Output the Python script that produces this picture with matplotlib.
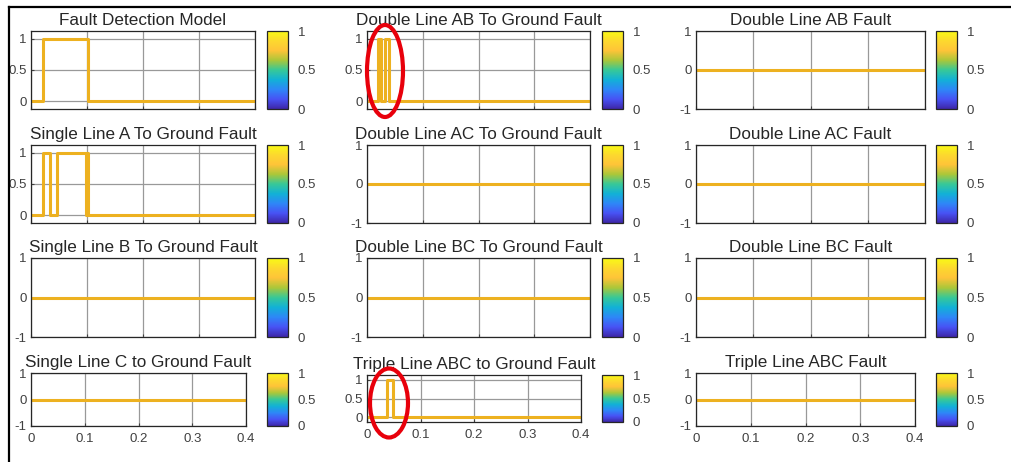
import numpy as np
import matplotlib
matplotlib.use('Agg')
from matplotlib import pyplot as plt
from matplotlib.colors import LinearSegmentedColormap, Normalize
from matplotlib.cm import ScalarMappable
from matplotlib.patches import Ellipse
from matplotlib.lines import Line2D

plt.rcParams['font.family'] = ['Liberation Sans', 'DejaVu Sans']
plt.rcParams['axes.unicode_minus'] = False

# step data (time breakpoints, output value)
titles = [['Fault Detection Model', 'Double Line AB To Ground Fault', 'Double Line AB Fault'],
          ['Single Line A To Ground Fault', 'Double Line AC To Ground Fault', 'Double Line AC Fault'],
          ['Single Line B To Ground Fault', 'Double Line BC To Ground Fault', 'Double Line BC Fault'],
          ['Single Line C to Ground Fault', 'Triple Line ABC to Ground Fault', 'Triple Line ABC Fault']]

t_fdm = [0, 0.021, 0.101, 0.4]
v_fdm = [0, 1, 0, 0]
t_ab_g = [0, 0.020, 0.025, 0.033, 0.039, 0.4]
v_ab_g = [0, 1, 0, 1, 0, 0]
t_a_g = [0, 0.022, 0.034, 0.047, 0.0985, 0.100, 0.1015, 0.4]
v_a_g = [0, 1, 0, 1, 0, 1, 0, 0]
t_abc_g = [0, 0.037, 0.048, 0.4]
v_abc_g = [0, 1, 0, 0]
t_flat = [0, 0.4]
v_flat = [0, 0]

series = [[(t_fdm, v_fdm), (t_ab_g, v_ab_g), (t_flat, v_flat)],
          [(t_a_g, v_a_g), (t_flat, v_flat), (t_flat, v_flat)],
          [(t_flat, v_flat), (t_flat, v_flat), (t_flat, v_flat)],
          [(t_flat, v_flat), (t_abc_g, v_abc_g), (t_flat, v_flat)]]

xticks = [0, 0.1, 0.2, 0.3, 0.4]

# approximate parula
parula = LinearSegmentedColormap.from_list('parula', [
    (0.2422, 0.1504, 0.6603), (0.2810, 0.3228, 0.9579), (0.1786, 0.5289, 0.9682),
    (0.0689, 0.6948, 0.8394), (0.2161, 0.7843, 0.5923), (0.6720, 0.7793, 0.2227),
    (0.9970, 0.7659, 0.2199), (0.9900, 0.8500, 0.1800), (0.9769, 0.9839, 0.0805)])

W, H = 1011, 462
fig = plt.figure(figsize=(W / 100, H / 100), dpi=100)

def px(x0, y0, x1, y1):
    return [x0 / W, 1 - y1 / H, (x1 - x0) / W, (y1 - y0) / H]

col_left = [31, 367, 696]
col_right = [[255, 590, 925]] * 3 + [[246, 581, 915]]
cb_left = [267, 602, 936]
row_top = [31, 145, 258, 373]
row_bot = [109, 223, 337, 426]

tc = '#404040'
for r in range(4):
    for c in range(3):
        top, bot = row_top[r], row_bot[r]
        if r == 3 and c == 1:
            top, bot = 375, 422
        ax = fig.add_axes(px(col_left[c], top, col_right[r][c], bot))
        t, v = series[r][c]
        ax.plot(t, v, drawstyle='steps-post', color='#EDB120', lw=2.2)
        ax.set_xlim(0, 0.4)
        ax.set_xticks(xticks)
        if max(v) > 0:
            ax.set_ylim(-0.12, 1.12)
            ax.set_yticks([0, 0.5, 1])
            ax.set_yticklabels(['0', '0.5', '1'])
        else:
            ax.set_ylim(-1, 1)
            ax.set_yticks([-1, 0, 1])
            ax.set_yticklabels(['-1', '0', '1'])
        if r == 3:
            ax.set_xticklabels(['0', '0.1', '0.2', '0.3', '0.4'])
        else:
            ax.set_xticklabels([])
        ax.grid(True, color='#999999', lw=0.9)
        ax.set_axisbelow(True)
        ax.tick_params(direction='in', length=2, labelsize=9.5, colors=tc, pad=3)
        ax.tick_params(axis='x', pad=5)
        for s in ax.spines.values():
            s.set_color('#262626')
            s.set_linewidth(0.9)
        ax.set_title(titles[r][c], fontsize=12.3, color='#262626', pad=4)

        cax = fig.add_axes(px(cb_left[c], top, cb_left[c] + 21, bot))
        cb = fig.colorbar(ScalarMappable(norm=Normalize(0, 1), cmap=parula), cax=cax, ticks=[0, 0.5, 1])
        cb.ax.set_yticklabels(['0', '0.5', '1'])
        cb.ax.tick_params(length=0, labelsize=9.5, colors=tc, pad=7)
        cb.outline.set_edgecolor('#262626')
        cb.outline.set_linewidth(0.9)

# red highlight ellipses
for cx, cy, ew, eh in [(385, 71, 36, 92), (389, 403, 38, 69)]:
    fig.add_artist(Ellipse((cx / W, 1 - cy / H), ew / W, eh / H, transform=fig.transFigure,
                           fill=False, edgecolor='#E8000B', lw=3))

# frame of the screenshot
fig.add_artist(Line2D([9 / W, 1], [1 - 7 / H, 1 - 7 / H], transform=fig.transFigure, color='black', lw=1.6))
fig.add_artist(Line2D([9 / W, 9 / W], [0, 1 - 7 / H], transform=fig.transFigure, color='black', lw=1.6))

plt.savefig('out.png', dpi=100)
